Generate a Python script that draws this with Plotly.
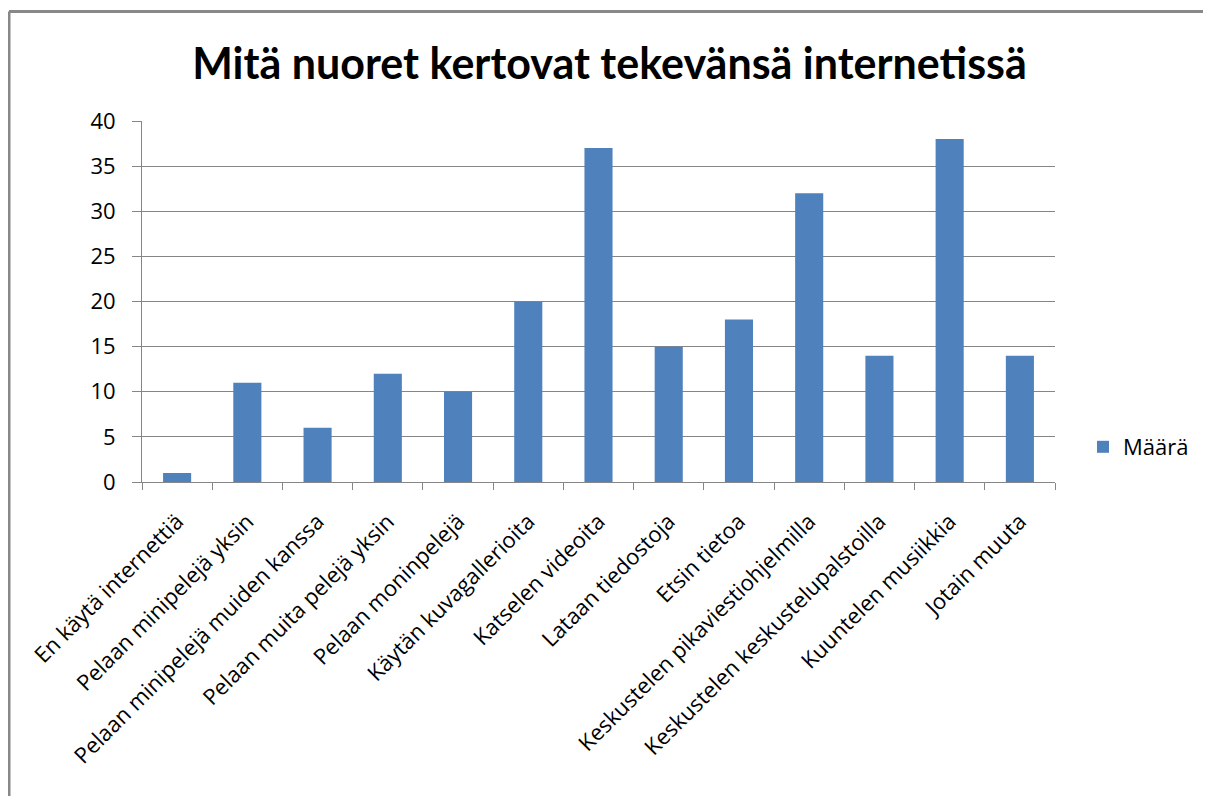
import plotly.graph_objects as go

categories = ["En käytä internettiä", "Pelaan minipelejä yksin", "Pelaan minipelejä muiden kanssa",
              "Pelaan muita pelejä yksin", "Pelaan moninpelejä", "Käytän kuvagallerioita",
              "Katselen videoita", "Lataan tiedostoja", "Etsin tietoa",
              "Keskustelen pikaviestiohjelmilla", "Keskustelen keskustelupalstoilla",
              "Kuuntelen musiikkia", "Jotain muuta"]
values = [1, 11, 6, 12, 10, 20, 37, 15, 18, 32, 14, 38, 14]
y_ticks = [0, 5, 10, 15, 20, 25, 30, 35, 40]

FONT = "Open Sans, sans-serif"
OFF = 8  # page body margin
W, H = 1211 - OFF, 796 - OFF
L = 142 - OFF
T = 121 - OFF
R = W - (1055 - OFF)
B = H - (482 - OFF)
pw, ph = W - L - R, H - T - B


def px(xs):
    return (xs - OFF - L) / pw


def py(ys):
    return (H - B - (ys - OFF)) / ph


fig = go.Figure(go.Bar(x=categories, y=values, name="Määrä", marker_color="#4F81BD",
                       marker_line_width=0, showlegend=True))

fig.update_layout(
    width=W, height=H,
    margin=dict(l=L, r=R, t=T, b=B, autoexpand=False),
    paper_bgcolor="white", plot_bgcolor="white",
    bargap=0.6,
    font=dict(family=FONT, size=22, color="black"),
    title=dict(text="<b>Mitä nuoret kertovat tekevänsä internetissä</b>",
               x=0.5, xanchor="center", y=1 - (64 - OFF) / H, yanchor="middle",
               font=dict(family="Lato, sans-serif", size=43, color="black")),
    xaxis=dict(type="category", tickangle=-45, tickson="boundaries", ticks="outside",
               ticklen=7, tickcolor="#868686", showline=True, linecolor="#868686",
               linewidth=1, showgrid=False, ticklabelstandoff=17,
               tickfont=dict(size=22, family=FONT)),
    yaxis=dict(range=[0, 40], tickvals=y_ticks, ticks="outside", ticklen=9,
               tickcolor="#868686", showline=True, linecolor="#868686", linewidth=1,
               showgrid=True, gridcolor="#868686", gridwidth=1, zeroline=False,
               ticklabelstandoff=12, tickfont=dict(size=22, family=FONT)),
    legend=dict(x=px(1083), y=py(447), xanchor="left", yanchor="middle",
                font=dict(size=22, family=FONT), bgcolor="rgba(0,0,0,0)"),
    shapes=[
        dict(type="line", xref="paper", yref="paper",
             x0=px(9), x1=px(9), y0=py(11.5), y1=py(830),
             line=dict(color="#888888", width=3)),
        dict(type="line", xref="paper", yref="paper",
             x0=px(9), x1=px(1240), y0=py(11.5), y1=py(11.5),
             line=dict(color="#888888", width=3)),
    ],
)

fig.write_html("out.html")
